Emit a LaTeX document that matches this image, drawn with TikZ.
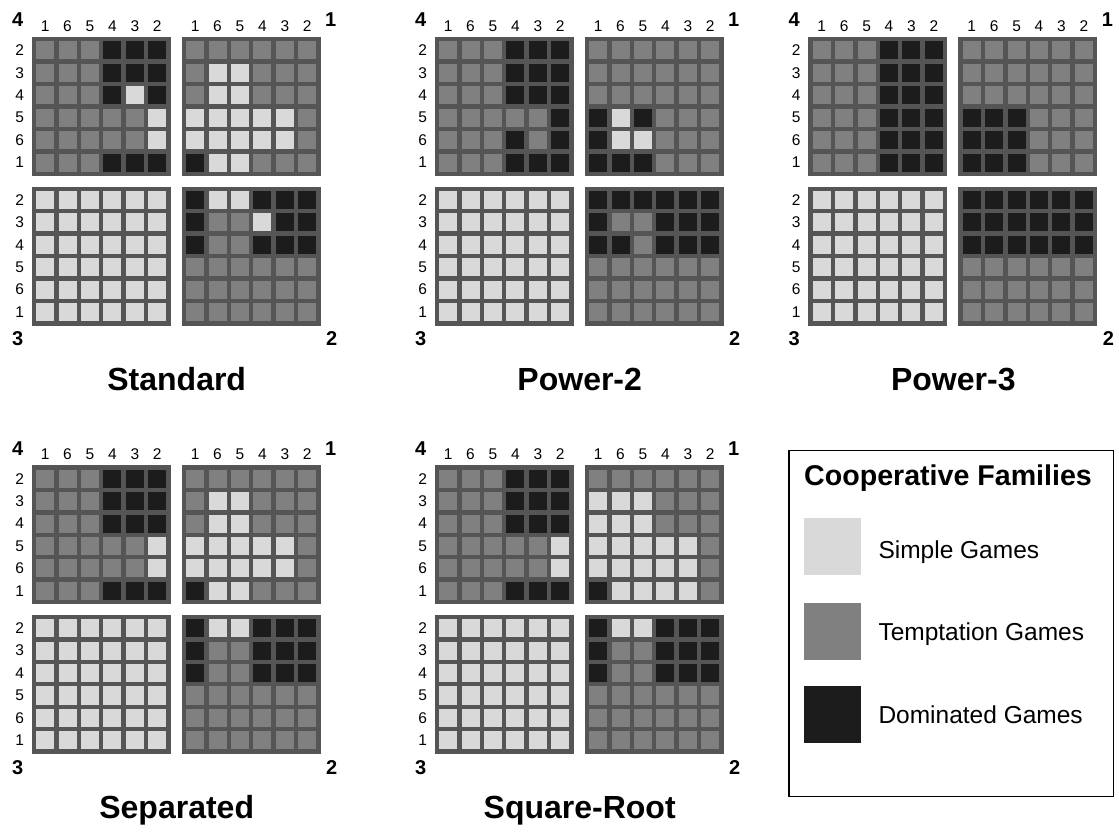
\documentclass[tikz,border=0pt]{standalone}
\usepackage{fontspec}
\setmainfont{Liberation Sans}
\definecolor{cL}{HTML}{D9D9D9}
\definecolor{cM}{HTML}{808080}
\definecolor{cD}{HTML}{1C1C1C}
\definecolor{gridc}{HTML}{555555}

\def\allL{L,L,L,L,L,L,L,L,L,L,L,L,L,L,L,L,L,L,L,L,L,L,L,L,L,L,L,L,L,L,L,L,L,L,L,L}
\def\qStdTL{M,M,M,D,D,D,M,M,M,D,D,D,M,M,M,D,L,D,M,M,M,M,M,L,M,M,M,M,M,L,M,M,M,D,D,D}
\def\qStdTR{M,M,M,M,M,M,M,L,L,M,M,M,M,L,L,M,M,M,L,L,L,L,L,M,L,L,L,L,L,M,D,L,L,M,M,M}
\def\qStdBR{D,L,L,D,D,D,D,M,M,L,D,D,D,M,M,D,D,D,M,M,M,M,M,M,M,M,M,M,M,M,M,M,M,M,M,M}
\def\qPtTL{M,M,M,D,D,D,M,M,M,D,D,D,M,M,M,D,D,D,M,M,M,M,M,D,M,M,M,D,M,D,M,M,M,D,D,D}
\def\qPtTR{M,M,M,M,M,M,M,M,M,M,M,M,M,M,M,M,M,M,D,L,D,M,M,M,D,L,L,M,M,M,D,D,D,M,M,M}
\def\qPtBR{D,D,D,D,D,D,D,M,M,D,D,D,D,D,M,D,D,D,M,M,M,M,M,M,M,M,M,M,M,M,M,M,M,M,M,M}
\def\qPhTL{M,M,M,D,D,D,M,M,M,D,D,D,M,M,M,D,D,D,M,M,M,D,D,D,M,M,M,D,D,D,M,M,M,D,D,D}
\def\qPhTR{M,M,M,M,M,M,M,M,M,M,M,M,M,M,M,M,M,M,D,D,D,M,M,M,D,D,D,M,M,M,D,D,D,M,M,M}
\def\qPhBR{D,D,D,D,D,D,D,D,D,D,D,D,D,D,D,D,D,D,M,M,M,M,M,M,M,M,M,M,M,M,M,M,M,M,M,M}
\def\qSepTL{M,M,M,D,D,D,M,M,M,D,D,D,M,M,M,D,D,D,M,M,M,M,M,L,M,M,M,M,M,L,M,M,M,D,D,D}
\def\qSepBR{D,L,L,D,D,D,D,M,M,D,D,D,D,M,M,D,D,D,M,M,M,M,M,M,M,M,M,M,M,M,M,M,M,M,M,M}
\def\qSqTR{M,M,M,M,M,M,L,L,L,M,M,M,L,L,L,M,M,M,L,L,L,L,L,M,L,L,L,L,L,M,D,L,L,L,L,M}

\tikzset{
  collab/.style={inner sep=0pt, font=\fontsize{15.5}{17}\selectfont},
  cornerlab/.style={inner sep=0pt, font=\fontsize{20}{22}\selectfont\bfseries},
  ptitle/.style={inner sep=0pt, anchor=base, font=\fontsize{32}{36}\selectfont\bfseries},
  legtext/.style={inner sep=0pt, anchor=base west, font=\fontsize{24.5}{28}\selectfont},
  swatch/.style={inner sep=0pt, minimum size=57.5pt, anchor=north west},
}

\newcommand\quadr[3]{%
  \fill[gridc] (#1,#2) rectangle ++(139,139);
  \foreach \c [count=\k from 0] in #3 {%
    \pgfmathtruncatemacro\qrow{int(\k/6)}%
    \pgfmathtruncatemacro\qcol{mod(\k,6)}%
    \fill[c\c] ({#1+4.4+\qcol*22.43},{#2+4.4+\qrow*22.43}) rectangle ++(18.03,18.03);
  }%
}

\newcommand\gpanel[8]{%
  \quadr{#1}{#2}{#3}
  \quadr{#1+150}{#2}{#4}
  \quadr{#1}{#2+149.5}{#5}
  \quadr{#1+150}{#2+149.5}{#6}
  \foreach \lab [count=\i from 0] in {1,6,5,4,3,2} {%
    \node[collab] (#8-cl\i) at ({#1+13.4+\i*22.43},{#2-11}) {\lab};
    \node[collab] (#8-cr\i) at ({#1+150+13.4+\i*22.43},{#2-11}) {\lab};
  }
  \foreach \lab [count=\i from 0] in {2,3,4,5,6,1} {%
    \node[collab] (#8-rt\i) at ({#1-12},{#2+13.4+\i*22.43}) {\lab};
    \node[collab] (#8-rb\i) at ({#1-12},{#2+149.5+13.4+\i*22.43}) {\lab};
  }
  \node[cornerlab] (#8-k4) at ({#1-14},{#2-17}) {4};
  \node[cornerlab] (#8-k1) at ({#1+299},{#2-17}) {1};
  \node[cornerlab] (#8-k3) at ({#1-14},{#2+302}) {3};
  \node[cornerlab] (#8-k2) at ({#1+300},{#2+302}) {2};
  \node[ptitle] (#8-title) at ({#1+145},{#2+353}) {#7};
}

\begin{document}
\begin{tikzpicture}[x=1pt,y=-1pt]
\useasboundingbox (0,0) rectangle (1119,835);

\gpanel{31.7}{37}{\qStdTL}{\qStdTR}{\allL}{\qStdBR}{Standard}{std}
\gpanel{434.7}{37}{\qPtTL}{\qPtTR}{\allL}{\qPtBR}{Power-2}{pw2}
\gpanel{808.3}{37}{\qPhTL}{\qPhTR}{\allL}{\qPhBR}{Power-3}{pw3}
\gpanel{31.7}{465.3}{\qSepTL}{\qStdTR}{\allL}{\qSepBR}{Separated}{sep}
\gpanel{434.7}{465.3}{\qSepTL}{\qSqTR}{\allL}{\qSepBR}{Square-Root}{sqr}

% legend
\node[draw=black, line width=1.2pt, inner sep=0pt, minimum width=324.4pt, minimum height=346pt, anchor=north west] (legend) at (788.3,450) {};
\node[inner sep=0pt, anchor=base west, font=\fontsize{28.6}{32}\selectfont\bfseries] (legtitle) at (804,485.5) {Cooperative Families};
\node[swatch, fill=cL] (swL) at (803.3,517.7) {};
\node[swatch, fill=cM] (swM) at (803.3,602.7) {};
\node[swatch, fill=cD] (swD) at (803.3,685.7) {};
\node[legtext] (txL) at (878.3,558) {Simple Games};
\node[legtext] (txM) at (878.3,640.3) {Temptation Games};
\node[legtext] (txD) at (878.3,723) {Dominated Games};
\end{tikzpicture}
\end{document}
